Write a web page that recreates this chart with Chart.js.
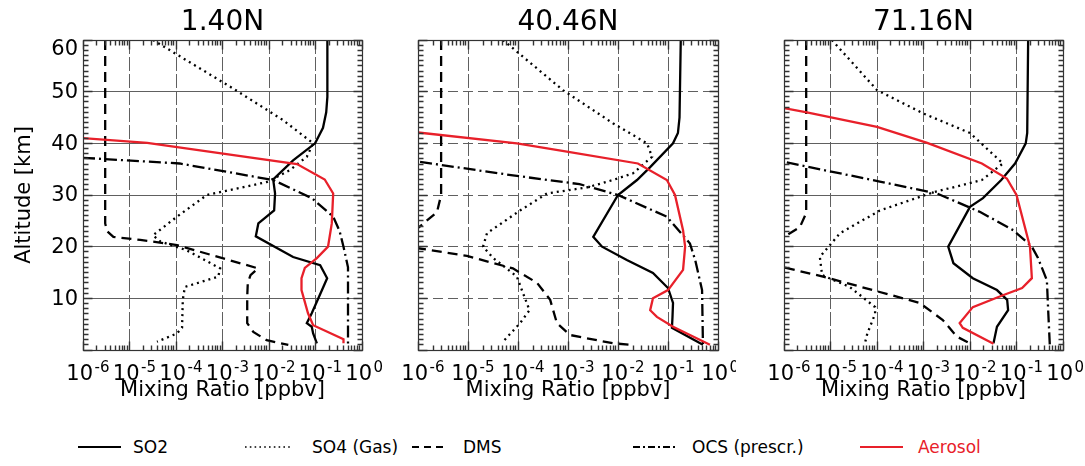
<!DOCTYPE html>
<html><head><meta charset="utf-8">
<script src="https://cdn.jsdelivr.net/npm/chart.js@4"></script>
<style>
html,body{margin:0;padding:0;background:#fff;}
body{width:1085px;height:466px;position:relative;overflow:hidden;font-family:"DejaVu Sans",sans-serif;}
canvas{position:absolute;top:0;}
.lg{position:absolute;top:437px;font-size:17px;line-height:20px;white-space:nowrap;color:#000;}
</style></head><body>
<canvas id="c1" width="384" height="410" style="left:0px"></canvas>
<canvas id="c2" width="352" height="410" style="left:384px"></canvas>
<canvas id="c3" width="349" height="410" style="left:736px"></canvas>
<svg width="1085" height="36" style="position:absolute;left:0;top:430px">
 <line x1="78" y1="17" x2="121" y2="17" stroke="#000" stroke-width="2"/>
 <line x1="245" y1="17" x2="292" y2="17" stroke="#000" stroke-width="1.6" stroke-dasharray="1.6 3.2"/>
 <line x1="412" y1="17" x2="443" y2="17" stroke="#000" stroke-width="2" stroke-dasharray="7 5"/>
 <line x1="633" y1="17" x2="675" y2="17" stroke="#000" stroke-width="2" stroke-dasharray="7 3 2 3"/>
 <line x1="860" y1="17" x2="903" y2="17" stroke="#e8202a" stroke-width="2"/>
</svg>
<div id="legend"></div>
<script>
// ---------- data ----------
const panelTitles = ['1.40N', '40.46N', '71.16N'];
const seriesNames = ['SO2', 'SO4 (Gas)', 'DMS', 'OCS (prescr.)', 'Aerosol'];
const altitudeTicks = [0, 10, 20, 30, 40, 50, 60];
const decadeExponents = [-6, -5, -4, -3, -2, -1, 0];

// [mixing ratio (ppbv), altitude (km)]
const so2_1N = [[0.18,60],[0.18,49],[0.17,46],[0.145,43],[0.098,40],[0.033,36.7],[0.0123,33],[0.0135,30.3],[0.0129,27],[0.0059,24.5],[0.0052,22],[0.033,18],[0.126,16.4],[0.178,13.9],[0.138,11.6],[0.083,7.1],[0.065,5.2],[0.083,4.5],[0.089,3.2],[0.107,1.3]];
const so4_1N = [[3.2e-5,60],[1.7e-3,50.6],[0.02,44.5],[0.089,40],[0.065,37.4],[0.028,34.8],[8.9e-3,32.5],[4.6e-4,30],[1.05e-4,25.8],[3.2e-5,22.2],[4.6e-5,21],[1.7e-4,19.3],[8.9e-4,15.8],[8.1e-4,14.2],[1.55e-4,12.2],[1.4e-4,9.7],[1.35e-4,4.3],[1.05e-4,3.2],[3.9e-5,1.6]];
const dms_1N = [[3e-6,60],[3e-6,24.5],[3.3e-6,23],[4.5e-6,21.9],[1.7e-5,21.3],[3.2e-5,21],[1.05e-4,20.3],[5.8e-3,15.8],[4e-3,14.5],[3.5e-3,13],[3.4e-3,10.3],[3.4e-3,5.2],[4.6e-3,3.5],[8.9e-3,1.9],[0.026,1.0]];
const ocs_1N = [[1e-6,37.2],[1.2e-4,36.1],[0.0123,32.9],[0.083,29.4],[0.24,25.8],[0.33,23],[0.40,20],[0.50,16],[0.50,1.0]];
const aer_1N = [[1e-6,41],[2.4e-5,40.1],[0.04,36],[0.158,33],[0.24,30.3],[0.224,24.5],[0.186,20],[0.107,17.8],[0.059,15.9],[0.05,13.9],[0.05,11.6],[0.069,7.1],[0.089,4.8],[0.40,2.1],[0.40,1.3]];

const so2_40N = [[0.18,60],[0.17,45],[0.158,42],[0.126,40],[0.044,35.4],[0.024,32.9],[0.01,30],[3.2e-3,21.9],[4.8e-3,20],[0.015,17.4],[0.05,14.9],[0.1,12],[0.126,9.1],[0.123,6.4],[0.12,4.3],[0.5,1.0]];
const so4_40N = [[5e-5,60],[7.9e-4,50.3],[7.9e-3,43.9],[0.038,40],[0.048,37.4],[0.02,34.2],[7.9e-3,32.9],[2.5e-3,31.5],[3.8e-4,30.3],[1.1e-4,27],[2.4e-5,22.6],[2e-5,20],[3.2e-5,17.8],[9.5e-5,14.2],[1.26e-4,11],[1.7e-4,7.7],[1.1e-4,5.2],[5e-5,1.6]];
const dms_40N = [[2.9e-6,60],[2.9e-6,30],[2.4e-6,26.7],[1e-6,23.6],[4e-7,21.7],[1e-6,19.7],[9.5e-6,18.2],[7.9e-5,15.8],[2.4e-4,13],[4.4e-4,9.7],[6e-4,5.2],[1.1e-3,2.9],[7.9e-3,1.3],[0.019,1.0]];
const ocs_40N = [[1.1e-6,36.4],[7.9e-5,33.8],[1.7e-3,32.1],[0.01,30],[0.095,25.8],[0.275,20.6],[0.35,17.4],[0.48,11.6],[0.5,1.0]];
const aer_40N = [[1e-6,42.1],[9.5e-5,40],[9.5e-4,38.4],[0.025,36.1],[0.095,32.9],[0.138,30],[0.2,23.2],[0.22,20],[0.2,15.5],[0.1,11.6],[0.05,10],[0.044,7.7],[0.06,6.4],[0.126,4.5],[0.69,1.0]];

const so2_71N = [[0.178,60],[0.17,42],[0.158,40],[0.093,36.1],[0.047,32.9],[0.019,29.4],[0.01,27.7],[3.4e-3,20],[4.4e-3,16.8],[0.0115,13.9],[0.038,11.6],[0.063,9.7],[0.066,7.7],[0.038,4.5],[0.032,1.3]];
const so4_71N = [[1.07e-5,60],[1e-4,50.3],[9.8e-4,45.8],[0.01,42],[0.051,36.1],[0.018,32.9],[1.6e-3,30.5],[1.15e-4,27],[1.6e-5,22.6],[5.9e-6,18],[6.6e-6,14.5],[2.6e-5,12.2],[9.1e-5,8.3],[9.1e-5,7],[6.2e-5,3.2],[5.5e-5,1.3]];
const dms_71N = [[3e-6,60],[3e-6,26.5],[2.2e-6,23.8],[1e-6,21.9],[4e-7,19],[1e-6,16],[6.9e-6,14.2],[8.1e-5,11.6],[8.3e-4,9.1],[2.6e-3,5.8],[5.2e-3,2.6],[0.0115,1.0]];
const ocs_71N = [[1.15e-6,36.3],[1.15e-4,32.6],[1.95e-3,30.3],[0.0166,26.7],[0.085,23.2],[0.214,20],[0.29,17.8],[0.45,13.5],[0.48,7.7],[0.52,1.0]];
const aer_71N = [[1e-6,46.8],[3.1e-6,46],[1e-4,43.2],[1.2e-3,40.1],[0.018,36.1],[0.062,33.2],[0.1,30],[0.195,20],[0.214,13.9],[0.132,12],[0.051,10.6],[0.0115,8.3],[6e-3,5.2],[7e-3,4.3],[0.032,1.2]];

// ---------- styles ----------
const FONT = '"DejaVu Sans", sans-serif';
Chart.defaults.font.family = FONT;
const RED = '#e8202a';
const seriesStyles = [
  {color:'#000', dash:[], order:1},
  {color:'#000', dash:[2,4], order:2},
  {color:'#000', dash:[10,6], order:3},
  {color:'#000', dash:[12,4,2,4], order:4},
  {color:RED, dash:[], order:0}
];

const alignPx = p => Math.round(p - 0.5) + 0.5;

// frame, inward ticks and tick labels, all positioned via the chart's scales
const framePlugin = {
  id: 'frame',
  afterDraw(chart, args, opts) {
    const {ctx, chartArea: a, scales: {x, y}} = chart;
    const L = alignPx(a.left), R = alignPx(a.right), T = alignPx(a.top), B = alignPx(a.bottom);
    ctx.save();
    ctx.setLineDash([]);
    ctx.lineWidth = 1.4;
    ctx.strokeStyle = '#333';
    ctx.beginPath();
    for (let e = -6; e <= 0; e++) {
      for (let m = 1; m <= 9; m++) {
        const v = m * Math.pow(10, e);
        if (v > 1.0000001) break;
        const px = alignPx(x.getPixelForValue(v));
        const len = m === 1 ? 9 : 5;
        ctx.moveTo(px, T); ctx.lineTo(px, T + len);
        ctx.moveTo(px, B); ctx.lineTo(px, B - len);
      }
    }
    for (let k = 0; k <= 60; k++) {
      const py = alignPx(y.getPixelForValue(k));
      const len = k % 10 === 0 ? 9 : 5;
      ctx.moveTo(L, py); ctx.lineTo(L + len, py);
      ctx.moveTo(R, py); ctx.lineTo(R - len, py);
    }
    ctx.stroke();
    ctx.lineWidth = 1.2;
    ctx.strokeRect(L, T, R - L, B - T);

    ctx.fillStyle = '#000';
    // x tick labels: 10 with superscript exponent
    ctx.textBaseline = 'alphabetic';
    x.ticks.forEach(t => {
      const d = x.getPixelForValue(t.value);
      const ex = Math.round(Math.log10(t.value));
      ctx.font = '21px ' + FONT;
      ctx.textAlign = 'right';
      ctx.fillText('10', d + 10, a.bottom + 30);
      ctx.font = '15px ' + FONT;
      ctx.textAlign = 'left';
      ctx.fillText(String(ex), d + 11.5, a.bottom + 22);
    });
    // y tick labels (top label kept inside the frame height, as in the original)
    if (opts.yLabels) {
      ctx.font = '21px ' + FONT;
      ctx.textAlign = 'right';
      ctx.textBaseline = 'middle';
      y.ticks.forEach(t => {
        if (t.value === 0) return;
        const py = Math.max(y.getPixelForValue(t.value), a.top + 8.5);
        ctx.fillText(String(t.value), a.left - 5, py + 1);
      });
    }
    ctx.restore();
  }
};

const panels = [
  {canvas:'c1', title:panelTitles[0], series:[so2_1N, so4_1N, dms_1N, ocs_1N, aer_1N], yWidth:83, padRight:22, yLabels:true, hDash:[]},
  {canvas:'c2', title:panelTitles[1], series:[so2_40N, so4_40N, dms_40N, ocs_40N, aer_40N], yWidth:34, padRight:18, yLabels:false, hDash:[10,5]},
  {canvas:'c3', title:panelTitles[2], series:[so2_71N, so4_71N, dms_71N, ocs_71N, aer_71N], yWidth:48, padRight:22, yLabels:false, hDash:[]}
];

panels.forEach(p => {
  const datasets = p.series.map((pts, i) => ({
    label: seriesNames[i],
    data: pts.map(([v, alt]) => ({x: v, y: alt})),
    borderColor: seriesStyles[i].color,
    borderDash: seriesStyles[i].dash,
    borderWidth: 2.3,
    pointRadius: 0,
    showLine: true,
    fill: false,
    tension: 0,
    order: seriesStyles[i].order
  }));
  new Chart(document.getElementById(p.canvas), {
    type: 'scatter',
    data: {datasets},
    plugins: [framePlugin],
    options: {
      responsive: false,
      animation: false,
      devicePixelRatio: 1,
      layout: {padding: {left: 0, right: p.padRight, top: 0, bottom: 5}},
      plugins: {
        legend: {display: false},
        tooltip: {enabled: false},
        frame: {yLabels: p.yLabels},
        title: {display: true, text: p.title, fullSize: false, color: '#000',
                font: {family: FONT, size: 28, weight: 'normal', lineHeight: 1.2},
                padding: {top: 6.4, bottom: 0}}
      },
      scales: {
        x: {
          type: 'logarithmic', position: 'bottom', min: 1e-6, max: 1,
          afterBuildTicks: s => { s.ticks = decadeExponents.map(e => ({value: Math.pow(10, e)})); },
          afterFit: s => { s.height = 55; s.paddingLeft = 0; s.paddingRight = 0; },
          ticks: {display: false},
          grid: {color: '#606060', lineWidth: 1, drawTicks: false},
          border: {display: false, dash: [14, 3]},
          title: {display: true, text: 'Mixing Ratio [ppbv]', color: '#000',
                  font: {family: FONT, size: 21}, padding: {top: 0, bottom: 1.8}}
        },
        y: {
          type: 'linear', position: 'left', min: 0, max: 60,
          afterBuildTicks: s => { s.ticks = altitudeTicks.map(v => ({value: v})); },
          afterFit: s => { s.width = p.yWidth; s.paddingTop = 0; s.paddingBottom = 0; },
          ticks: {display: false},
          grid: {color: '#606060', lineWidth: 1, drawTicks: false},
          border: {display: false, dash: p.hDash},
          title: {display: p.yLabels, text: 'Altitude [km]', color: '#000',
                  font: {family: FONT, size: 21}, padding: {top: 11.5, bottom: 0}}
        }
      }
    }
  });
});

// ---------- legend (text) ----------
const legendX = [133, 312, 463, 692, 918];
const legendEl = document.getElementById('legend');
seriesNames.forEach((name, i) => {
  const d = document.createElement('div');
  d.className = 'lg';
  d.style.left = legendX[i] + 'px';
  d.style.color = i === 4 ? RED : '#000';
  d.textContent = name;
  legendEl.appendChild(d);
});
</script>
</body></html>
